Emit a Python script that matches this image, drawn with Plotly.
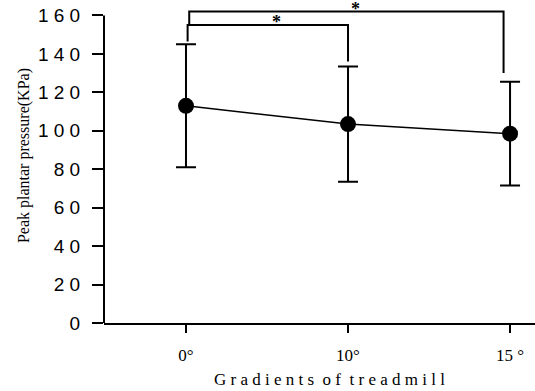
import plotly.graph_objects as go

# ---- data ----
categories = ["0°", "10°", "15 °"]
means = [113, 103.5, 98.5]
sd = [32, 30, 27]
y_ticks = [0, 20, 40, 60, 80, 100, 120, 140, 160]
y_ticktext = ["0", "2 0", "4 0", "6 0", "8 0", "1 0 0", "1 2 0", "1 4 0", "1 6 0"]
# significance brackets: (from index, to index, bar height, left leg end, right leg end)
brackets = [
    (0, 1, 155, 146.5, 136),
    (0, 2, 162, 155, 130),
]
bracket_x_offsets = [(0.01, 0.0), (0.02, -0.04)]
y_axis_top = 160

x_idx = list(range(len(categories)))

fig = go.Figure()
fig.add_trace(go.Scatter(
    x=x_idx, y=means,
    mode="lines+markers",
    line=dict(color="black", width=1.5),
    marker=dict(color="black", size=16),
    error_y=dict(type="data", array=sd, visible=True, color="black", thickness=2, width=10),
    showlegend=False, cliponaxis=False,
))

shapes = []
annotations = []
for (i, j, h, l_end, r_end), (dl, dr) in zip(brackets, bracket_x_offsets):
    xl = i + dl
    xr = j + dr
    shapes.append(dict(type="path",
                       path=f"M {xl},{l_end} L {xl},{h} L {xr},{h} L {xr},{r_end}",
                       xref="x", yref="y", line=dict(color="black", width=2)))
    annotations.append(dict(x=(xl + xr) / 2, y=h, xref="x", yref="y", text="<b>*</b>",
                            showarrow=False, yanchor="bottom", yshift=-9, xshift=9,
                            font=dict(size=18, color="black", family="Liberation Serif")))

# y-axis line only up to 160
shapes.append(dict(type="line", xref="paper", yref="y", x0=0, x1=0, y0=0, y1=y_axis_top,
                   line=dict(color="black", width=2)))

annotations.append(dict(text="G r a d i e n t s  o f  t r e a d m i l l", xref="paper", yref="paper",
                        x=0.524, y=0, yanchor="middle", xanchor="center", yshift=-56, showarrow=False,
                        font=dict(family="Liberation Serif", size=17, color="black")))
annotations.append(dict(text="Peak plantar pressure(KPa)", xref="paper", yref="paper",
                        x=0, y=0.52, xanchor="center", yanchor="middle", xshift=-80, textangle=-90,
                        showarrow=False, font=dict(family="Liberation Serif", size=16, color="black")))

fig.update_layout(
    width=535, height=391,
    margin=dict(l=104, r=0, t=2, b=68),
    plot_bgcolor="white", paper_bgcolor="white",
    shapes=shapes, annotations=annotations,
    xaxis=dict(range=[-0.506, 2.154], tickvals=x_idx, ticktext=categories,
               showline=True, linecolor="black", linewidth=2, ticks="outside", ticklen=8,
               tickwidth=2, tickcolor="black", showgrid=False, zeroline=False,
               tickfont=dict(family="Liberation Serif", size=17, color="black"),
               ticklabelstandoff=8),
    yaxis=dict(range=[0, 167], tickvals=y_ticks, ticktext=y_ticktext, showline=False,
               ticks="outside", ticklen=11, tickwidth=2, tickcolor="black",
               showgrid=False, zeroline=False,
               tickfont=dict(family="Liberation Sans", size=19, color="black"),
               ticklabelstandoff=8),
)

fig.write_html("out.html", config={"displayModeBar": False},
               post_script="document.body.style.margin='0';document.body.style.overflow='hidden';")
